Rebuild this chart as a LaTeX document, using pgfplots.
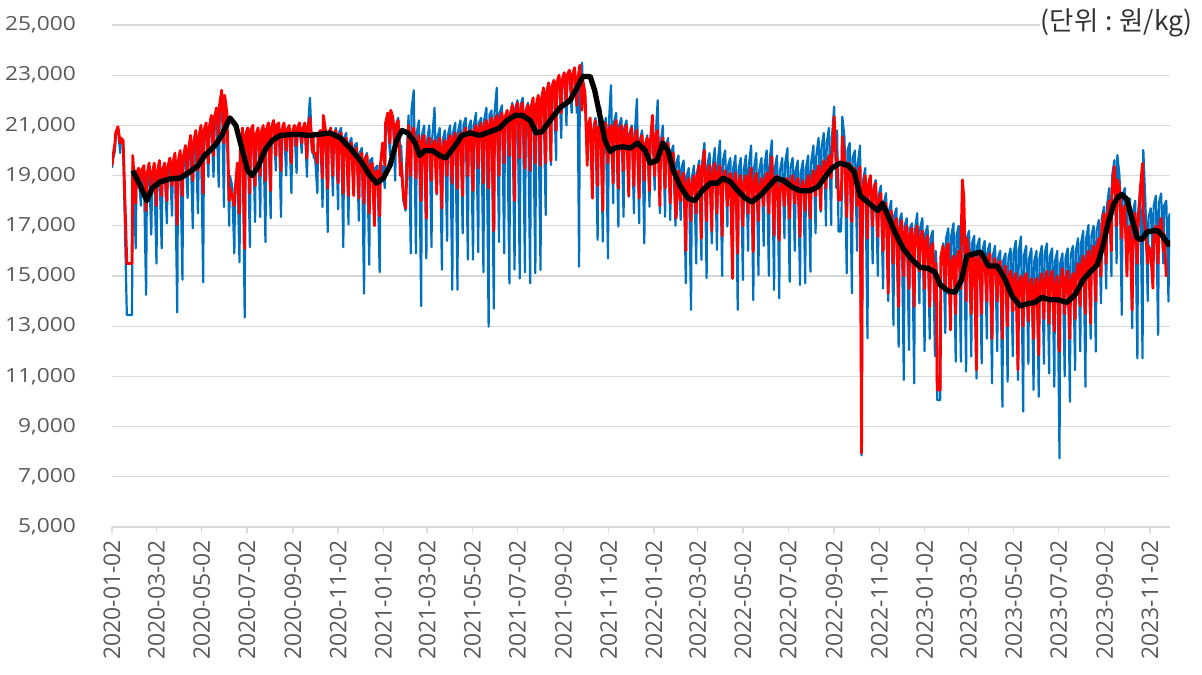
\documentclass[border=0pt]{standalone}
\usepackage{fontspec}
\setmainfont{Open Sans}
\newfontfamily\krfont{Noto Sans CJK KR}
\newfontfamily\ytfont[FakeStretch=1.17]{Open Sans}
\usepackage{pgfplots}
\pgfplotsset{compat=1.18}
\definecolor{tickgray}{HTML}{595959}
\definecolor{gridgray}{HTML}{D9D9D9}
\definecolor{xblue}{HTML}{0070C0}
\begin{document}
\begin{tikzpicture}
\path[use as bounding box] (0,0) rectangle (1202bp,675bp);
\begin{axis}[
  at={(112bp,148bp)}, anchor=south west,
  scale only axis, width=1058bp, height=502bp,
  xmin=0, xmax=1427, ymin=5000, ymax=25000,
  axis line style={draw=none},
  ytick={5000,7000,...,25000},
  scaled y ticks=false,
  ymajorgrids, grid style={gridgray, line width=1.3bp},
  ytick style={draw=none},
  xtick pos=left, tick align=outside, major tick length=6bp,
  x tick style={gridgray, line width=1.3bp},
  xtick={0,60,121,182,244,305,366,425,486,547,609,670,731,790,851,912,974,1035,1096,1155,1216,1277,1339,1400},
  xticklabels={2020-01-02,2020-03-02,2020-05-02,2020-07-02,2020-09-02,2020-11-02,2021-01-02,2021-03-02,2021-05-02,2021-07-02,2021-09-02,2021-11-02,2022-01-02,2022-03-02,2022-05-02,2022-07-02,2022-09-02,2022-11-02,2023-01-02,2023-03-02,2023-05-02,2023-07-02,2023-09-02,2023-11-02},
  xticklabel style={font=\fontsize{23}{24}\selectfont, text=tickgray, rotate=90, anchor=east, inner sep=0pt},
  xticklabel shift=7bp,
  yticklabel style={font=\ytfont\fontsize{19.5}{20}\selectfont, text=tickgray, anchor=east, inner sep=0pt},
  yticklabel shift=30bp,
  no marks,
  every axis plot/.append style={line join=round},
  /pgf/number format/1000 sep={,},
  /pgf/number format/assume math mode=true,
]
% blue series
\addplot[xblue, line width=2.2bp] coordinates {
(0,19300)(1,19600)(4,20000)(5,20600)(8,20900)(11,19900)(12,20400)(15,20300)(20,13450)(27,13450)(28,19500)(29,19000)
(32,16100)(33,18700)(36,19000)(39,17800)(40,18800)(43,19100)(46,14250)(47,18500)(50,19200)
(53,16650)(54,18600)(57,19300)(60,15500)(61,18700)(64,19300)(67,16100)(68,18900)(71,19300)
(74,17100)(75,19000)(78,19500)(81,17400)(82,19300)(85,19700)(88,13550)(89,19200)(92,19800)
(95,14850)(96,19300)(99,19800)(102,18100)(103,19600)(106,20100)(109,16900)(110,19900)(113,20200)
(116,17500)(117,20000)(120,20500)(123,14750)(124,20300)(127,20800)(130,18950)(131,20500)(134,21000)
(137,18950)(138,20800)(141,21300)(144,18550)(145,21200)(148,22400)(151,17750)(152,21600)(155,21200)
(158,17000)(159,19000)(162,18600)(165,15900)(166,18500)(169,19200)(172,15550)(173,19800)(176,20800)
(179,13350)(180,20500)(183,20700)(186,16150)(187,20600)(190,20900)(193,17150)(194,20500)(197,20800)
(200,17350)(201,20600)(204,20900)(207,16350)(208,20700)(211,21000)(214,17300)(215,20900)(218,21100)
(221,19200)(222,20900)(225,21000)(228,17350)(229,20700)(232,21000)(235,19000)(236,20700)(239,20900)
(242,18300)(243,20600)(246,20900)(249,19100)(250,20800)(253,20900)(256,19900)(257,20700)(260,21000)
(263,18950)(264,20800)(267,22100)(270,19900)(271,20600)(272,19700)(274,19700)(277,18300)(278,20600)(281,20800)
(284,17750)(285,20500)(288,20800)(291,16750)(292,20400)(295,20700)(298,18200)(299,20600)(302,20900)
(305,17650)(306,20700)(309,20900)(312,16150)(313,20500)(316,20700)(319,17050)(320,20300)(323,20500)
(326,18250)(327,20200)(330,20300)(333,17200)(334,19900)(337,20100)(340,14300)(341,19700)(344,19900)
(347,15450)(348,19600)(351,19700)(354,17050)(355,19300)(358,19400)(361,15150)(362,19000)(365,19400)
(368,18500)(369,20600)(372,21300)(375,19800)(376,21600)(379,21200)(382,18800)(383,21000)(386,21300)
(389,19900)(390,20200)(393,18000)(396,17600)(397,19500)(400,21400)(403,15900)(404,21600)(407,22400)
(410,15900)(411,20700)(414,21200)(417,13800)(418,20600)(421,21000)(424,15700)(425,20400)(428,21000)
(431,16150)(432,20500)(435,21700)(438,18250)(439,20500)(442,20900)(445,15250)(446,20400)(449,20800)
(452,16400)(453,20600)(456,21000)(459,14450)(460,20700)(463,21100)(466,14450)(467,20800)(470,21200)
(473,16700)(474,21000)(477,21300)(480,15650)(481,20900)(484,21200)(487,15650)(488,21000)(491,21500)
(494,15950)(495,21100)(498,21300)(501,15150)(502,21200)(505,21700)(508,12980)(509,21400)(512,21600)
(515,13700)(516,21500)(519,22500)(522,16350)(523,21500)(526,21800)(529,15900)(530,21300)(533,21600)
(536,14700)(537,21400)(540,21900)(543,15250)(544,21700)(547,22000)(550,14900)(551,21800)(554,22100)
(557,15150)(558,21600)(561,21900)
(564,14710)(565,21400)(568,21800)(571,15110)(572,21600)(575,22000)(578,15240)(579,21700)(582,22200)
(585,17430)(586,22000)(589,22500)(592,19420)(593,22300)(596,22700)(599,19620)(600,22500)(603,22900)
(606,20500)(607,22600)(610,23000)(613,21000)(614,22800)(617,23100)(620,21500)(621,23000)(624,23200)
(627,21500)(628,22900)(630,15370)(631,22800)(634,23500)(635,22600)(638,22100)
(641,19800)(642,21000)(645,21200)(648,19160)(649,20800)(652,21300)(655,16440)(656,21000)(659,21700)
(662,16370)(663,20700)(666,21300)(669,15700)(670,21000)(673,22600)(676,17900)(677,21100)(680,21500)
(683,16970)(684,21000)(687,21300)(690,17360)(691,20900)(694,21200)(697,18160)(698,20700)(701,21000)
(704,17500)(705,20600)(708,22050)(711,17100)(712,20400)(715,20800)(718,16300)(719,20200)(722,20600)
(725,17760)(726,20300)(729,20700)(732,18430)(733,20400)(736,22000)(739,17500)(740,20300)(743,21000)
(746,17360)(747,20100)(750,20500)(753,17230)(754,19900)(757,20200)(760,17000)(761,19500)(764,19800)
(767,17230)(768,19300)(771,19600)(774,14710)(775,19000)(778,19300)(781,13650)(782,18900)(785,19400)
(788,15500)(789,19100)(792,19600)(795,15640)(796,19500)(799,20300)(802,14910)(803,19400)(806,19900)
(809,16300)(810,19300)(813,20100)(816,16040)(817,19500)(820,20400)(823,15000)(824,19600)(827,20000)
(830,16970)(831,19400)(834,19700)(837,15500)(838,19300)(841,19800)(844,13650)(845,19200)(848,19700)
(851,14840)(852,19200)(855,19800)(858,16000)(859,19400)(862,20200)(865,14040)(866,19300)(869,19900)
(872,15040)(873,19200)(876,19700)(879,16200)(880,19400)(883,20000)(886,15000)(887,19600)(890,20400)
(893,14440)(894,19300)(897,19800)(900,14110)(901,19200)(904,19700)(907,16500)(908,19500)(911,20090)
(914,14770)(915,19300)(918,19700)(921,16000)(922,19200)(925,19600)(928,14640)(929,19100)(932,19600)
(935,14710)(936,19300)(939,19800)(942,15170)(943,19500)(946,20200)(949,16700)(950,19800)(953,20500)
(956,17560)(957,20100)(960,20700)(963,17000)(964,20300)(967,20900)(970,17030)(971,20500)(974,21750)
(977,18500)(978,20800)(980,16770)(983,16770)(984,17500)(985,21350)(988,20500)
(991,15110)(992,20000)(995,20300)(998,14310)(999,19700)(1002,20000)(1005,16000)(1006,19500)(1009,20200)
(1011,7850)(1012,15500)(1013,18800)(1016,19300)(1019,12520)(1020,18600)(1023,19000)
(1026,15500)(1027,18500)(1030,18820)(1033,15000)(1034,18200)(1037,18600)(1040,14500)(1041,17900)(1044,18300)
(1047,14000)(1048,17600)(1051,18000)(1054,13050)(1055,17400)(1058,17700)(1061,12180)(1062,17200)(1065,17500)
(1068,10860)(1069,17000)(1072,17300)(1075,12050)(1076,16900)(1079,17100)(1082,10720)(1083,16800)(1086,17500)
(1089,13910)(1090,16900)(1093,17300)(1096,12000)(1097,16700)(1100,17000)(1103,12500)(1104,16500)(1107,16800)
(1110,11800)(1111,16000)(1112,15500)(1113,10060)(1117,10060)(1118,15500)(1121,16300)
(1124,12720)(1125,16500)(1128,16900)(1131,13000)(1132,16600)(1135,17100)(1138,11590)(1139,16600)(1142,17000)
(1145,11590)(1146,16800)(1149,17200)(1152,11190)(1153,16500)(1156,16800)(1159,11790)(1160,16300)(1163,16600)
(1166,10920)(1167,16200)(1170,16500)(1173,11520)(1174,16000)(1177,16400)(1180,12500)(1181,16000)(1184,16300)
(1187,10720)(1188,15800)(1191,16200)(1194,12000)(1195,15700)(1198,16000)(1201,9790)(1202,15600)(1205,15900)
(1208,10790)(1209,15700)(1212,16100)(1215,11800)(1216,15900)(1219,16400)(1222,10860)(1223,16000)(1226,16570)
(1229,9600)(1230,15800)(1233,16200)(1236,11500)(1237,15700)(1240,16100)(1243,10460)(1244,15600)(1247,16000)
(1250,10190)(1251,15700)(1254,16200)(1257,11500)(1258,15900)(1261,16300)(1264,11120)(1265,15800)(1268,16100)
(1271,10590)(1272,15600)(1275,16000)(1278,7735)(1279,15500)(1282,15900)(1285,11000)(1286,15700)(1289,16100)
(1292,9990)(1293,15800)(1296,16200)(1299,11250)(1300,16000)(1303,16500)(1306,12000)(1307,16300)(1310,16800)
(1313,10590)(1314,16500)(1317,17030)(1320,12500)(1321,16600)(1324,17000)(1327,11985)(1328,16800)(1331,17230)
(1334,13910)(1335,17300)(1338,17760)(1341,14500)(1342,17800)(1345,18500)(1348,15000)(1349,19000)(1352,19620)
(1355,15500)(1356,19820)(1359,18960)(1362,13450)(1363,18200)(1366,18500)(1369,15000)(1370,17800)(1373,18090)
(1376,12920)(1377,17500)(1380,18000)(1383,11720)(1384,17500)(1387,18500)(1390,11720)(1391,20020)(1394,17800)
(1397,14000)(1398,17300)(1401,17700)(1404,15500)(1405,17800)(1408,18200)(1411,12650)(1412,17900)(1415,18290)
(1418,15500)(1419,17800)(1422,18000)(1425,13980)(1426,17400)(1427,17500)
};
% red series
\addplot[red, line width=2.8bp] coordinates {
(0,19400)(1,19700)(4,20300)(5,20700)(8,20950)(11,20300)(12,20500)(15,20400)(20,15500)(27,15500)(28,19800)(29,19300)
(32,17900)(33,19100)(36,19300)(39,18500)(40,19200)(43,19400)(46,17600)(47,19000)(50,19500)
(53,18400)(54,19000)(57,19500)(60,17800)(61,19100)(64,19600)(67,18200)(68,19200)(71,19500)
(74,18000)(75,19300)(78,19700)(81,18600)(82,19500)(85,19900)(88,17050)(89,19500)(92,20000)
(95,18200)(96,19700)(99,20200)(102,19000)(103,20000)(106,20600)(109,18800)(110,20300)(113,20800)
(116,19200)(117,20500)(120,21000)(123,18300)(124,20800)(127,21100)(130,19500)(131,20900)(134,21400)
(137,19800)(138,21300)(141,21700)(144,20500)(145,21800)(148,22400)(151,20300)(152,22200)(155,21500)
(158,18000)(159,18500)(162,18200)(165,17800)(166,18300)(169,19500)(172,17500)(173,20000)(176,20900)
(179,16100)(180,20600)(183,20900)(186,18300)(187,20800)(190,21000)(193,18600)(194,20600)(197,20900)
(200,19000)(201,20700)(204,21000)(207,18800)(208,20800)(211,21100)(214,18400)(215,20900)(218,21200)
(221,19800)(222,21000)(225,21100)(228,19200)(229,20800)(232,21100)(235,20000)(236,20800)(239,21000)
(242,19500)(243,20700)(246,21000)(249,20200)(250,20900)(253,21100)(256,20300)(257,20800)(260,21100)
(263,19700)(264,20900)(267,21300)(270,20000)(271,20700)(272,19900)(274,19900)(277,19500)(278,20600)(281,20800)
(284,18900)(285,21400)(288,20800)(291,18500)(292,20600)(295,20900)(298,19000)(299,20600)(302,20800)
(305,18700)(306,20500)(309,20700)(312,18300)(313,20300)(316,20500)(319,18200)(320,20000)(323,20300)
(326,18200)(327,19900)(330,20100)(333,18100)(334,19700)(337,19900)(340,17900)(341,19600)(344,19800)
(347,17500)(348,19300)(351,19500)(354,17000)(355,19100)(358,19200)(361,17400)(362,19400)(365,20300)
(368,19400)(369,21100)(372,21500)(375,20300)(376,21600)(379,21300)(382,20000)(383,21000)(386,21200)
(389,19000)(390,19500)(393,18200)(396,17700)(397,18500)(400,21000)
(403,19000)(404,20700)(407,20900)(410,18900)(411,20200)(414,20600)(417,18000)(418,20300)(421,20600)
(424,17300)(425,20100)(428,20500)(431,18800)(432,20100)(435,20400)(438,18300)(439,20200)(442,20500)
(445,17700)(446,20100)(449,20400)(452,19000)(453,20300)(456,20600)(459,18700)(460,20400)(463,20700)
(466,18500)(467,20400)(470,20700)(473,18200)(474,20600)(477,20900)(480,19000)(481,20600)(484,20800)
(487,18400)(488,20700)(491,21000)(494,19300)(495,20800)(498,21100)(501,18700)(502,20900)(505,21200)
(508,18500)(509,21000)(512,21300)(515,16800)(516,21100)(519,21400)(522,19000)(523,21200)(526,21500)
(529,19500)(530,21300)(533,21600)(536,19800)(537,21400)(540,21800)(543,18000)(544,21500)(547,21900)
(550,19700)(551,21600)(554,21900)(557,19300)(558,21500)(561,21800)
(564,19200)(565,21700)(568,22100)(571,19500)(572,21800)(575,22200)(578,19400)(579,22000)(582,22500)
(585,19500)(586,22300)(589,22700)(592,19600)(593,22500)(596,22800)(599,20800)(600,22700)(603,23000)
(606,21500)(607,22800)(610,23100)(613,21800)(614,23000)(617,23200)(620,22000)(621,23000)(624,23300)
(627,21800)(628,22800)(631,23400)(634,21600)(635,22800)(638,22300)
(641,19400)(642,20900)(645,21300)(648,18100)(649,20700)(652,21200)(655,18600)(656,20900)(659,21000)
(662,17600)(663,20700)(666,21100)(669,19500)(670,20800)(673,21000)(676,18700)(677,20900)(680,21200)
(683,18500)(684,20800)(687,21000)(690,19200)(691,20700)(694,21000)(697,18200)(698,20500)(701,20900)
(704,18600)(705,20400)(708,20800)(711,18100)(712,20300)(715,20600)(718,18800)(719,20200)(722,20500)
(725,18400)(726,20300)(729,21400)(732,19000)(733,20500)(736,20800)(739,17800)(740,20200)(743,20500)
(746,18500)(747,20000)(750,20300)(753,17900)(754,19700)(757,19900)
(760,17700)(761,17300)(764,19200)(767,18000)(768,18800)(771,19100)(774,16000)(775,18600)(778,18900)
(781,17200)(782,18600)(785,19000)(788,17500)(789,18900)(792,19400)(795,16500)(796,19200)(799,20000)
(802,17200)(803,19000)(806,19400)(809,16800)(810,18900)(813,19500)(816,17500)(817,19000)(820,19400)
(823,16600)(824,18900)(827,19200)(830,17800)(831,18800)(834,19100)(837,14900)(838,18700)(841,19100)
(844,15900)(845,18700)(848,19000)(851,17000)(852,18600)(855,19000)(858,17500)(859,18800)(862,19300)
(865,15970)(866,18600)(869,19100)(872,17200)(873,18400)(876,18900)(879,17800)(880,18600)(883,19100)
(886,17500)(887,18800)(890,19750)(893,16630)(894,18600)(897,19000)(900,16430)(901,18400)(904,18800)
(907,17800)(908,18500)(911,18900)(914,17300)(915,18500)(918,19000)(921,17900)(922,18600)(925,18900)
(928,16570)(929,18400)(932,18800)(935,17600)(936,18500)(939,19000)(942,17300)(943,18600)(946,19200)
(949,18200)(950,18900)(953,19400)(956,17630)(957,19100)(960,19600)(963,18500)(964,19300)(967,19800)
(970,18900)(971,19600)(974,21350)(977,19500)(978,19700)(980,18030)(983,18030)(984,18500)(985,20550)(988,19700)
(991,17360)(992,19100)(995,19500)(998,17160)(999,18900)(1002,19300)(1005,17800)(1006,19000)(1009,19350)
(1011,7950)(1012,16500)(1013,18500)(1016,19000)(1019,16500)(1020,18600)(1023,19000)
(1026,17000)(1027,18300)(1030,18700)(1033,16570)(1034,17900)(1037,18300)(1040,16000)(1041,17500)(1044,17900)
(1047,14310)(1048,17200)(1051,17600)(1054,15500)(1055,17000)(1058,17300)(1061,13780)(1062,16800)(1065,17200)
(1068,15000)(1069,16700)(1072,17000)(1075,14500)(1076,16600)(1079,16900)(1082,13780)(1083,16500)(1086,17000)
(1089,15200)(1090,16400)(1093,16800)(1096,14500)(1097,16300)(1100,16600)(1103,13780)(1104,16000)(1107,16300)
(1110,14000)(1111,15500)(1112,15000)(1113,10460)(1117,10460)(1118,15800)(1121,16200)
(1124,14500)(1125,16000)(1128,16300)(1131,12850)(1132,15500)(1135,15800)(1138,13500)(1139,15600)(1142,16000)
(1145,14500)(1146,17500)(1147,18830)(1149,18100)(1152,14000)(1153,16500)(1156,15800)(1159,13500)(1160,15800)(1163,15900)
(1166,11260)(1167,15600)(1170,15900)(1173,13500)(1174,15500)(1177,15800)(1180,14000)(1181,15600)(1184,15900)
(1187,12500)(1188,15300)(1191,15700)(1194,14000)(1195,15200)(1198,15600)(1201,12500)(1202,15000)(1205,15400)
(1208,13000)(1209,14900)(1212,15200)(1215,13600)(1216,14800)(1219,15100)(1222,11260)(1223,14700)(1226,15000)
(1229,13000)(1230,14840)(1233,15100)(1236,13200)(1237,14600)(1240,14900)(1243,12500)(1244,14500)(1247,14900)
(1250,11850)(1251,14600)(1254,15100)(1257,13300)(1258,14700)(1261,15200)(1264,13110)(1265,14800)(1268,15200)
(1271,12800)(1272,14600)(1275,15000)(1278,12000)(1279,14500)(1282,15300)(1285,13500)(1286,14800)(1289,15200)
(1292,12500)(1293,14700)(1296,15100)(1299,13300)(1300,15000)(1303,15500)(1306,13800)(1307,15300)(1310,15800)
(1313,13500)(1314,15500)(1317,16000)(1320,13110)(1321,15700)(1324,16200)(1327,14000)(1328,16000)(1331,16500)
(1334,15000)(1335,17000)(1338,17500)(1341,15500)(1342,17300)(1345,18000)(1348,16000)(1349,18500)(1352,19360)
(1355,17000)(1356,18830)(1359,18500)(1362,16500)(1363,17500)(1366,17800)(1369,15000)(1370,16800)(1373,17000)
(1376,13640)(1377,16000)(1380,17500)(1383,15500)(1384,17000)(1387,18500)(1390,19490)(1391,17500)(1394,16800)
(1397,15500)(1398,16200)(1401,16000)(1404,14510)(1405,16500)(1408,17000)(1411,15500)(1412,16800)(1415,17300)
(1418,16000)(1419,16700)(1422,14970)
};
% black moving average
\addplot[black, line width=5.3bp] coordinates {
(28,19200)(38,18600)(47,18000)(54,18500)(65,18750)(78,18870)(92,18900)(105,19150)(116,19400)(125,19800)
(139,20200)(148,20600)(159,21300)(167,21000)(175,20100)(183,19200)(189,19000)(197,19350)(206,20000)(216,20400)
(227,20600)(247,20650)(267,20600)(294,20700)(308,20500)(321,20100)(335,19600)(348,19000)(357,18700)(366,18900)
(375,19400)(384,20400)(391,20800)(399,20700)(409,20300)(415,19800)(422,20000)(432,20000)(442,19800)(450,19700)
(463,20200)(472,20600)(483,20700)(496,20600)(510,20750)(523,20900)(533,21200)(544,21400)(553,21400)(564,21200)
(572,20700)(580,20750)(591,21200)(604,21700)(618,22000)(629,22600)(635,22950)(645,22950)(651,22400)(658,21400)
(665,20400)(672,19950)(678,20100)(688,20150)(699,20100)(709,20300)(719,20000)(726,19500)(735,19600)(743,20300)
(750,20000)(757,19200)(766,18600)(777,18100)(786,18000)(796,18400)(807,18700)(817,18700)(824,18900)(834,18750)
(844,18400)(854,18100)(863,17950)(874,18200)(885,18550)(896,18900)(906,18800)(917,18550)(928,18400)(941,18400)
(952,18550)(962,18950)(971,19300)(982,19500)(993,19400)(1001,19150)(1009,18200)(1017,18000)(1025,17800)(1033,17600)
(1039,17900)(1045,17500)(1056,16750)(1067,16100)(1079,15650)(1090,15350)(1101,15300)(1110,15150)(1117,14650)(1128,14400)
(1137,14350)(1146,14850)(1153,15800)(1164,15900)(1172,15950)(1182,15400)(1194,15400)(1204,14900)(1214,14200)(1225,13800)
(1235,13900)(1245,13950)(1254,14150)(1265,14050)(1276,14050)(1288,13950)(1299,14250)(1310,14850)(1319,15150)(1329,15450)
(1337,16250)(1343,17050)(1351,17850)(1357,18150)(1362,18250)(1369,18050)(1376,17250)(1383,16500)(1389,16450)(1396,16750)
(1404,16800)(1411,16800)(1418,16550)(1425,16250)(1429,16350)
};
\end{axis}
\node[anchor=east, fill=white, inner sep=1bp, text=black!80, font=\krfont\fontsize{26.5}{28}\selectfont] at (1194bp,652bp) {(단위\hspace{7bp}:\hspace{7bp}원/kg)};
\end{tikzpicture}
\end{document}
